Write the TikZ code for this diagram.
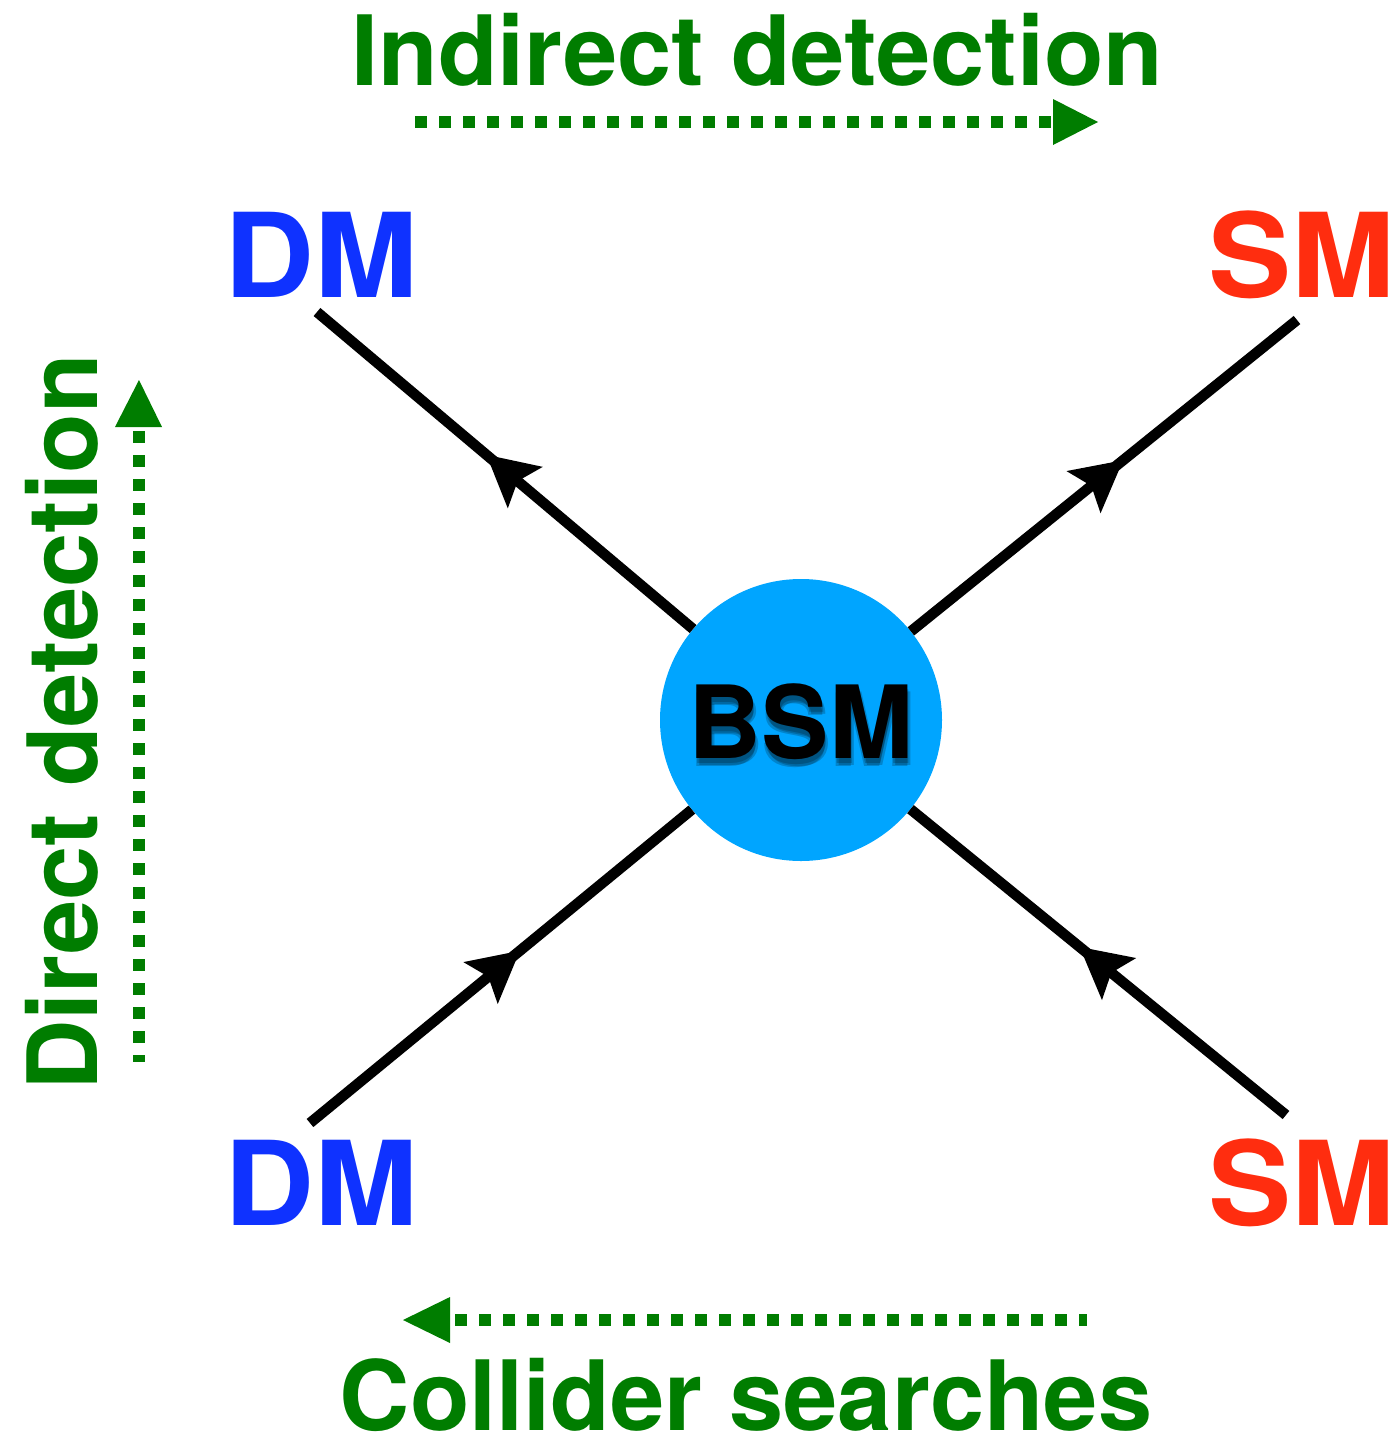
\documentclass[tikz,border=0pt]{standalone}
\usepackage{fontspec}
\setmainfont{TeX Gyre Heros}
\newfontfamily\widehv[FakeStretch=1.065]{TeX Gyre Heros}
\newfontfamily\lblhv[FakeStretch=1.005]{TeX Gyre Heros}
\usetikzlibrary{arrows.meta,decorations.markings}
\definecolor{dgreen}{RGB}{0,125,0}
\definecolor{dmblue}{RGB}{15,50,255}
\definecolor{smred}{RGB}{255,45,15}
\definecolor{bsmcyan}{RGB}{0,165,255}
\tikzset{
  lbl/.style={anchor=base,inner sep=0pt,font=\lblhv\bfseries\fontsize{97}{97}\selectfont,text=dgreen},
  dmtxt/.style={anchor=base,inner sep=0pt,font=\widehv\bfseries\fontsize{117}{117}\selectfont,text=dmblue},
  smtxt/.style={anchor=base,inner sep=0pt,font=\widehv\bfseries\fontsize{117}{117}\selectfont,text=smred},
  bsmfont/.style={anchor=base,inner sep=0pt,font=\bfseries\fontsize{101}{101}\selectfont},
  dots/.style={draw=dgreen,line width=12pt,dash pattern=on 12pt off 12pt,line cap=butt},
  head/.style={fill=dgreen},
  prop/.style={line width=10.5pt,line cap=butt,postaction={decorate},
    decoration={markings,mark=at position #1 with {\arrow{Stealth[length=50pt,width=52pt,inset=9pt]}}}},
}
\begin{document}
\begin{tikzpicture}[x=1pt,y=-1pt]
\useasboundingbox (0,0) rectangle (1399,1435);
% labels
\node[lbl] (ind) at (757.5,85) {Indirect detection};
\node[lbl] (col) at (746,1430) {Collider searches};
\node[lbl,rotate=90] (dir) at (97,722.5) {Direct detection};
\node[dmtxt] (dm1) at (321,297) {DM};
\node[dmtxt] (dm2) at (321,1225) {DM};
\node[smtxt] (sm1) at (1301.5,297) {SM};
\node[smtxt] (sm2) at (1301.5,1225) {SM};
% BSM blob
\node[circle,fill=bsmcyan,minimum size=282pt,inner sep=0pt] (bsm) at (801,720) {};
\foreach \dx/\dy in {1/5,3/7,0/8}{
  \node[bsmfont,text=black,opacity=0.2] at (801+\dx,758+\dy) {BSM};
}
\node[bsmfont,text=black] (bsmtxt) at (801,758) {BSM};
% leg end points
\coordinate (tl) at (317,312);
\coordinate (tr) at (1297,320);
\coordinate (bl) at (310,1123);
\coordinate (br) at (1286,1115);
\draw[prop=0.55] (bsm) -- (tl);
\draw[prop=0.55] (bsm) -- (tr);
\draw[prop=0.55] (bl) -- (bsm);
\draw[prop=0.55] (br) -- (bsm);
% dotted arrows
\coordinate (a1s) at (415,122);
\coordinate (a1e) at (1051,122);
\draw[dots] (a1s) -- (a1e);
\fill[head] (1053,99) -- (1053,145) -- (1098,122) -- cycle;
\coordinate (a2s) at (139,431);
\coordinate (a2e) at (139,1062);
\draw[dots] (a2s) -- (a2e);
\fill[head] (115,427) -- (162,427) -- (139,380) -- cycle;
\coordinate (a3s) at (455,1320);
\coordinate (a3e) at (1087,1320);
\draw[dots] (a3s) -- (a3e);
\fill[head] (450,1297) -- (450,1343) -- (403,1320) -- cycle;
\end{tikzpicture}
\end{document}
